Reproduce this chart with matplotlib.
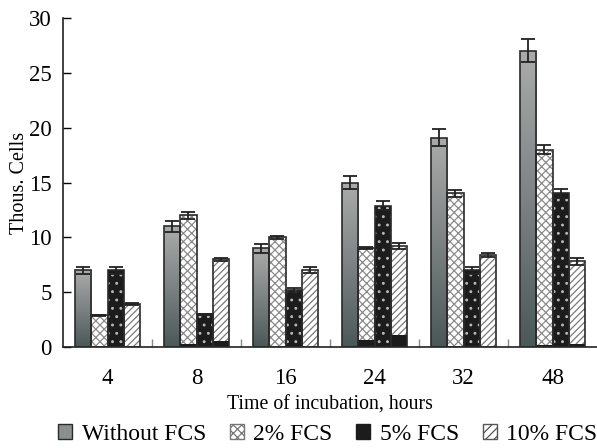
import numpy as np
import matplotlib
matplotlib.use("Agg")
import matplotlib.pyplot as plt
from matplotlib.patches import Patch
from matplotlib.colors import LinearSegmentedColormap

# data
hours = ["4", "8", "16", "24", "32", "48"]
series = ["Without FCS", "2% FCS", "5% FCS", "10% FCS"]
without = [7.0, 11.0, 9.0, 15.0, 19.1, 27.0]
without_err = [0.3, 0.5, 0.4, 0.6, 0.8, 1.05]
fcs2 = [2.9, 12.0, 10.0, 9.0, 14.0, 18.0]
fcs2_err = [0.05, 0.3, 0.15, 0.1, 0.3, 0.4]
fcs5 = [7.0, 3.0, 5.2, 12.9, 7.0, 14.0]
fcs5_err = [0.3, 0.05, 0.2, 0.4, 0.3, 0.4]
fcs10 = [3.9, 8.0, 7.0, 9.2, 8.4, 7.8]
fcs10_err = [0.1, 0.15, 0.25, 0.3, 0.2, 0.3]
# small dark strips at the foot of some bars
fcs2_base = [0, 0.25, 0, 0.65, 0, 0.15]
fcs10_base = [0, 0.55, 0, 1.05, 0, 0.25]

plt.rcParams["font.family"] = ["Liberation Serif", "DejaVu Serif"]
plt.rcParams["hatch.linewidth"] = 0.9

fig = plt.figure(figsize=(5.97, 4.48), dpi=100)
ax = fig.add_axes([63 / 597, 1 - 347 / 448, 534 / 597, 329 / 448])

x = np.arange(len(hours))
w = 0.18
offs = [-1.5 * w, -0.5 * w, 0.5 * w, 1.5 * w]
edge = "#2a2a2a"
grad = LinearSegmentedColormap.from_list("g", ["#4b5858", "#7d8282", "#ababab"])
err_kw = dict(ecolor="#222222", elinewidth=1.3, capsize=5, capthick=1.3)

# Without FCS - gradient bars
bars = ax.bar(x + offs[0], without, w, facecolor="none", edgecolor=edge, lw=1.2, zorder=3)
g = np.linspace(0, 1, 256).reshape(-1, 1)
for b in bars:
    x0, y0 = b.get_x(), b.get_y()
    im = ax.imshow(g, cmap=grad, origin="lower", aspect="auto",
                   extent=[x0, x0 + b.get_width(), y0, y0 + b.get_height()], zorder=2)
    im.set_clip_path(b)
ax.errorbar(x + offs[0], without, yerr=without_err, fmt="none", zorder=4, **err_kw)

# 2% FCS - cross hatch
ax.bar(x + offs[1], fcs2, w, facecolor="white", edgecolor="#8a8a8a", hatch="xxxx", lw=0, zorder=2)
ax.bar(x + offs[1], fcs2_base, w, facecolor="#1c1c1c", lw=0, zorder=2.5)
ax.bar(x + offs[1], fcs2, w, facecolor="none", edgecolor=edge, lw=1.2, zorder=3)
ax.errorbar(x + offs[1], fcs2, yerr=fcs2_err, fmt="none", zorder=4, **err_kw)

# 5% FCS - black with small light dots
ax.bar(x + offs[2], fcs5, w, facecolor="#1c1c1c", edgecolor="#b8b8b8", hatch="..", lw=0, zorder=2)
ax.bar(x + offs[2], fcs5, w, facecolor="none", edgecolor=edge, lw=1.2, zorder=3)
ax.errorbar(x + offs[2], fcs5, yerr=fcs5_err, fmt="none", zorder=4, **err_kw)

# 10% FCS - diagonal hatch
ax.bar(x + offs[3], fcs10, w, facecolor="white", edgecolor="#7a7a7a", hatch="/////", lw=0, zorder=2)
ax.bar(x + offs[3], fcs10_base, w, facecolor="#1c1c1c", lw=0, zorder=2.5)
ax.bar(x + offs[3], fcs10, w, facecolor="none", edgecolor=edge, lw=1.2, zorder=3)
ax.errorbar(x + offs[3], fcs10, yerr=fcs10_err, fmt="none", zorder=4, **err_kw)

ax.set_xlim(-0.5, 5.5)
ax.set_ylim(0, 30)
ax.set_yticks(range(0, 31, 5))
ax.set_xticks(x)
ax.set_xticklabels(hours)
ax.set_xticks(x[:-1] + 0.5, minor=True)
ax.tick_params(axis="x", which="major", length=0, labelsize=16.5, pad=15)
ax.tick_params(axis="x", which="minor", direction="in", length=6, width=1, color="#888888")
ax.tick_params(axis="y", direction="in", length=6, width=1, labelsize=16.5, pad=8)
for s in ["top", "right"]:
    ax.spines[s].set_visible(False)
for s in ["left", "bottom"]:
    ax.spines[s].set_linewidth(1.2)
    ax.spines[s].set_color("#222222")

ax.set_ylabel("Thous. Cells", fontsize=14.5, labelpad=0)
ax.set_xlabel("Time of incubation, hours", fontsize=14.3, labelpad=5)

handles = [
    Patch(facecolor="#8a8f8f", edgecolor=edge, lw=1),
    Patch(facecolor="white", edgecolor="#777777", hatch="xxxx", lw=1),
    Patch(facecolor="#1c1c1c", edgecolor="#1c1c1c", lw=1),
    Patch(facecolor="white", edgecolor="#555555", hatch="////", lw=1),
]
fig.legend(handles, series, loc="center", bbox_to_anchor=(0.549, 1 - 434 / 448),
           ncol=4, frameon=False, fontsize=17, handlelength=0.6, handleheight=0.6,
           handletextpad=0.4, columnspacing=1.0, borderaxespad=0, borderpad=0)

fig.savefig("out.png", dpi=100)
